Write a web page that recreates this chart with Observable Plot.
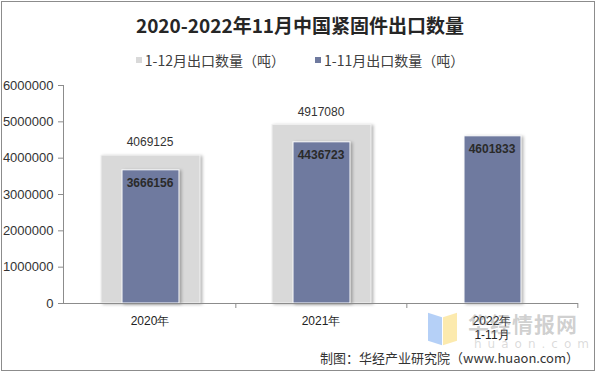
<!DOCTYPE html>
<html>
<head>
<meta charset="utf-8">
<script src="https://cdn.jsdelivr.net/npm/d3@7"></script>
<script src="https://cdn.jsdelivr.net/npm/@observablehq/plot@0.6"></script>
<style>
  html, body { margin: 0; padding: 0; background: #fff; }
  #frame { position: relative; width: 600px; height: 375px; overflow: hidden; background: #fff; }
  #border { position: absolute; left: 1px; top: 1px; width: 594px; height: 370px; border: 1px solid #8c8c8c; box-sizing: border-box; pointer-events: none; }
  #title { position: absolute; left: 0; top: 12px; width: 600px; text-align: center; font-family: "Noto Sans CJK SC", sans-serif; font-weight: bold; font-size: 19px; line-height: 26px; color: #262626; }
  #legend { position: absolute; left: 0; top: 50px; width: 600px; text-align: center; font-family: "Noto Sans CJK SC", sans-serif; font-size: 14px; line-height: 20px; color: #404040; }
  #legend span.item { margin: 0 15px; }
  #legend i { display: inline-block; width: 6px; height: 6px; margin-right: 3px; vertical-align: 3px; }
  #chart { position: absolute; left: 0; top: 70px; }
  #footer { position: absolute; right: 21px; top: 348px; font-family: "Noto Sans CJK SC", sans-serif; font-size: 13px; color: #333; }
  #wm1 { position: absolute; left: 468px; top: 308px; font-family: "Noto Sans CJK SC", sans-serif; font-size: 21px; font-weight: bold; color: rgba(120,120,120,0.35); letter-spacing: 1px; }
  #wm2 { position: absolute; left: 474px; top: 337px; font-family: "DejaVu Sans", sans-serif; font-size: 12px; color: rgba(150,150,150,0.35); letter-spacing: 6px; }
  #logoA { position: absolute; left: 428px; top: 315px; width: 14px; height: 28px; background: rgba(120,170,240,0.55); transform: skewY(18deg); }
  #logoB { position: absolute; left: 443px; top: 315px; width: 14px; height: 28px; background: rgba(250,220,120,0.6); transform: skewY(-18deg); }
  svg g[aria-label="bar"] { filter: drop-shadow(2px 1px 1.5px rgba(0,0,0,0.28)); }
</style>
</head>
<body>
<div id="frame">
  <div id="title">2020-2022年11月中国紧固件出口数量</div>
  <div id="legend"></div>
  <div id="chart"></div>
  <div id="logoA"></div><div id="logoB"></div>
  <div id="wm1">华经情报网</div>
  <div id="wm2">huaon.com</div>
  <div id="footer">制图：华经产业研究院（www.huaon.com）</div>
  <div id="border"></div>
</div>
<script>
const categories = ["2020年", "2021年", "2022年\n1-11月"];
const seriesNames = ["1-12月出口数量（吨）", "1-11月出口数量（吨）"];
const fullYear = [4069125, 4917080, null];
const janToNov = [3666156, 4436723, 4601833];
const yTicks = [0, 1000000, 2000000, 3000000, 4000000, 5000000, 6000000];
const colors = ["#d9d9d9", "#6f7a9f"];

const fullData = categories.map((c, i) => ({cat: c, v: fullYear[i]})).filter(d => d.v != null);
const partData = categories.map((c, i) => ({cat: c, v: janToNov[i]})).filter(d => d.v != null);

document.getElementById("legend").innerHTML = seriesNames.map((n, i) =>
  `<span class="item"><i style="background:${colors[i]}"></i>${n}</span>`).join("");

const W = 600, ML = 63, MR = 22;
const step = (W - ML - MR) / categories.length;
const font = "Liberation Sans, Arial, sans-serif";

const chart = Plot.plot({
  width: W,
  height: 278,
  marginTop: 15,
  marginBottom: 45,
  marginLeft: ML,
  marginRight: MR,
  style: {fontFamily: font, fontSize: "12px", color: "#333", background: "transparent"},
  x: {type: "band", domain: categories, padding: 0, label: null},
  y: {domain: [0, 6000000], label: null},
  marks: [
    Plot.barY(fullData, {x: "cat", y: "v", fill: colors[0], stroke: "#f2f2f2", strokeWidth: 1, insetLeft: 37, insetRight: 35}),
    Plot.barY(partData, {x: "cat", y: "v", fill: colors[1], stroke: "#ffffff", strokeWidth: 1, insetLeft: 58, insetRight: 56}),
    Plot.text(fullData, {x: "cat", y: "v", text: d => String(d.v), dy: -13, fontSize: 12, fill: "#333", fontFamily: font}),
    Plot.text(partData, {x: "cat", y: "v", text: d => String(d.v), dy: 13, fontSize: 12, fontWeight: "bold", fill: "#2a2a2a", fontFamily: font}),
    Plot.frame({anchor: "left", stroke: "#8c8c8c"}),
    Plot.ruleY([0], {stroke: "#8c8c8c"}),
    Plot.axisY({ticks: yTicks, tickFormat: d => String(d), tickSize: 5, tickPadding: 5, fontSize: 13, stroke: "#8c8c8c", fill: "#333", label: null}),
    Plot.axisX({tickSize: 0, tickPadding: 11, fontSize: 12, fill: "#222", label: null, lineHeight: 1.2}),
    Plot.axisX({tickSize: 5, tickFormat: () => "", dx: step / 2, stroke: "#8c8c8c", label: null})
  ]
});
document.getElementById("chart").appendChild(chart);
</script>
</body>
</html>
